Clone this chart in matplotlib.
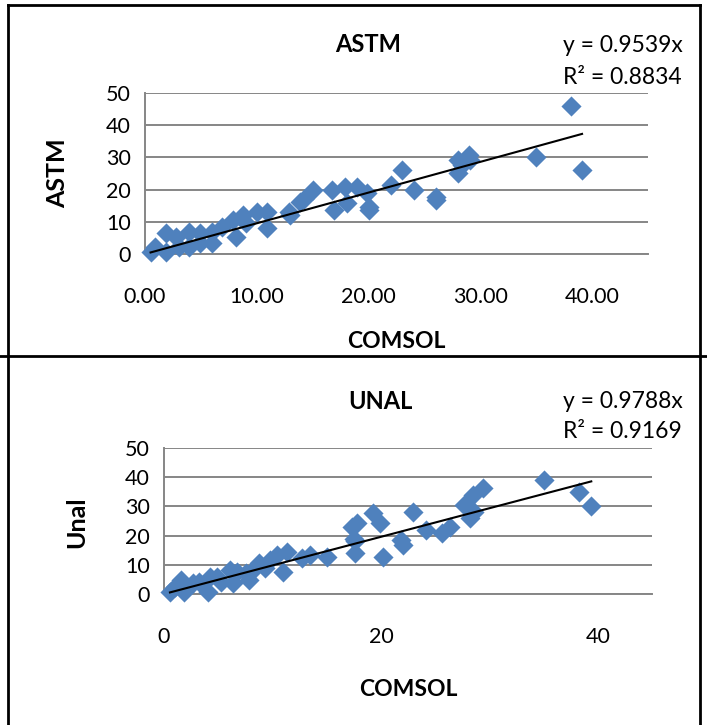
import matplotlib
matplotlib.use("Agg")
import matplotlib.pyplot as plt
from matplotlib.lines import Line2D
import numpy as np

# ---------------- data ----------------
astm_comsol = [0.5, 0.9, 1.9, 1.9, 2.8, 3.0, 3.9, 3.9, 4.9, 4.9, 6.0, 6.0, 6.9, 7.9, 8.1,
               8.8, 9.0, 10.0, 10.9, 10.9, 12.9, 13.0, 13.9, 14.2, 15.0, 16.7, 16.9, 17.9,
               18.1, 19.0, 19.9, 20.0, 20.0, 22.0, 23.0, 24.1, 26.0, 26.0, 28.0, 28.0, 28.4,
               29.0, 29.1, 35.0, 38.1, 39.1]
astm_values = [0.7, 2.3, 6.4, 0.7, 5.4, 2.3, 6.9, 2.3, 6.4, 3.5, 6.9, 3.5, 8.5, 10.6, 5.4,
               12.1, 9.5, 13.1, 13.1, 8.0, 13.1, 12.1, 16.2, 17.0, 19.9, 19.9, 13.7, 20.9,
               15.7, 20.9, 18.8, 14.7, 13.7, 21.4, 26.1, 19.9, 17.8, 16.8, 29.2, 25.1, 27.6,
               30.7, 29.2, 30.2, 46.0, 26.1]
astm_slope = 0.9539
astm_r2 = 0.8834

unal_comsol = [0.55, 1.0, 1.6, 1.8, 2.7, 3.2, 4.1, 4.2, 4.9, 5.3, 6.1, 6.4, 6.7, 7.6, 7.8,
               8.2, 8.8, 9.3, 9.8, 10.4, 11.0, 11.3, 12.7, 13.5, 15.0, 17.3, 17.6, 17.8,
               17.5, 17.6, 19.3, 19.9, 20.2, 21.9, 22.0, 23.0, 24.2, 25.6, 26.4, 27.7, 28.2,
               28.5, 28.6, 29.4, 35.0, 38.3, 39.4]
unal_values = [0.8, 2.5, 4.8, 0.8, 3.7, 4.2, 0.8, 5.9, 5.9, 4.2, 8.2, 3.7, 7.6, 7.1, 4.8,
               8.2, 10.5, 8.8, 11.6, 13.4, 7.6, 14.5, 12.2, 13.4, 12.8, 23.0, 13.9, 24.2,
               19.0, 18.0, 27.6, 24.2, 12.8, 18.5, 16.8, 28.2, 21.9, 20.8, 23.0, 30.5, 25.9,
               33.9, 28.0, 36.2, 39.0, 35.0, 30.1]
unal_slope = 0.9788
unal_r2 = 0.9169

# ---------------- style ----------------
W, H = 707, 725
FONT = ["Lato", "DejaVu Sans"]
plt.rcParams["font.family"] = FONT
BLUE = "#4F81BD"
GRID = "#868686"

fig = plt.figure(figsize=(W / 100, H / 100), dpi=100)


def fx(px):
    return px / W


def fy(py):
    return 1 - py / H


def rect(l, t, r, b):
    return [fx(l), fy(b), fx(r) - fx(l), fy(t) - fy(b)]


def panel(ax, xs, ys, slope, r2, xticks, xticklabels, title, ylabel,
          title_xy, eq_xy, eq_gap, ylabel_xy, xlabel_xy, xtick_y):
    ax.set_xlim(0, 45)
    ax.set_ylim(0, 50)
    ax.set_yticks(range(0, 51, 10))
    ax.yaxis.grid(True, color=GRID, lw=1.4)
    ax.set_axisbelow(True)
    for s in ["top", "right"]:
        ax.spines[s].set_visible(False)
    for s in ["left", "bottom"]:
        ax.spines[s].set_color(GRID)
        ax.spines[s].set_linewidth(1.4)
    ax.tick_params(length=0, labelsize=15.5, pad=10)
    ax.set_xticks(xticks)
    ax.set_xticklabels([])
    ax.scatter(xs, ys, marker="D", s=105, color=BLUE, linewidths=0,
               clip_on=False, zorder=3)
    xs_arr = np.array(xs)
    xl = np.array([xs_arr.min(), xs_arr.max()])
    ax.plot(xl, slope * xl, color="black", lw=1.5, zorder=4, clip_on=False)
    for v, lab in zip(xticks, xticklabels):
        xd = ax.transData.transform((v, 0))[0]
        fig.text(xd / fig.bbox.width, fy(xtick_y), lab, ha="center",
                 va="center", fontsize=15.5)
    fig.text(fx(title_xy[0]), fy(title_xy[1]), title, ha="center", va="center",
             fontsize=17, fontweight="bold")
    fig.text(fx(eq_xy[0]), fy(eq_xy[1]), f"y = {slope:.4f}x", ha="left",
             va="center", fontsize=16.5)
    fig.text(fx(eq_xy[0]), fy(eq_xy[1] + eq_gap), f"R² = {r2:.4f}", ha="left",
             va="center", fontsize=16.5)
    fig.text(fx(ylabel_xy[0]), fy(ylabel_xy[1]), ylabel, ha="center",
             va="center", rotation=90, fontsize=18, fontweight="bold")
    fig.text(fx(xlabel_xy[0]), fy(xlabel_xy[1]), "COMSOL", ha="center",
             va="center", fontsize=16.5, fontweight="bold")


ax1 = fig.add_axes(rect(145, 93, 648, 254))
ax2 = fig.add_axes(rect(164, 448, 652, 594))

panel(ax1, astm_comsol, astm_values, astm_slope, astm_r2,
      [0, 10, 20, 30, 40], ["0.00", "10.00", "20.00", "30.00", "40.00"],
      "ASTM", "ASTM", (368, 45), (563, 46), 32, (58, 173), (396, 342), 297)
panel(ax2, unal_comsol, unal_values, unal_slope, unal_r2,
      [0, 20, 40], ["0", "20", "40"],
      "UNAL", "Unal", (380, 401), (563, 401), 30, (77, 522), (408, 690), 637)

# frame lines (table borders)
def line(x0, y0, x1, y1, lw=2.0):
    fig.add_artist(Line2D([fx(x0), fx(x1)], [fy(y0), fy(y1)], color="black",
                          lw=lw, transform=fig.transFigure))

line(8, 5, 700, 5)
line(8, 5, 8, 725)
line(700, 5, 700, 356)
line(0, 356, 707, 356)
line(700, 356, 700, 725)

fig.savefig("out.png", dpi=100)
